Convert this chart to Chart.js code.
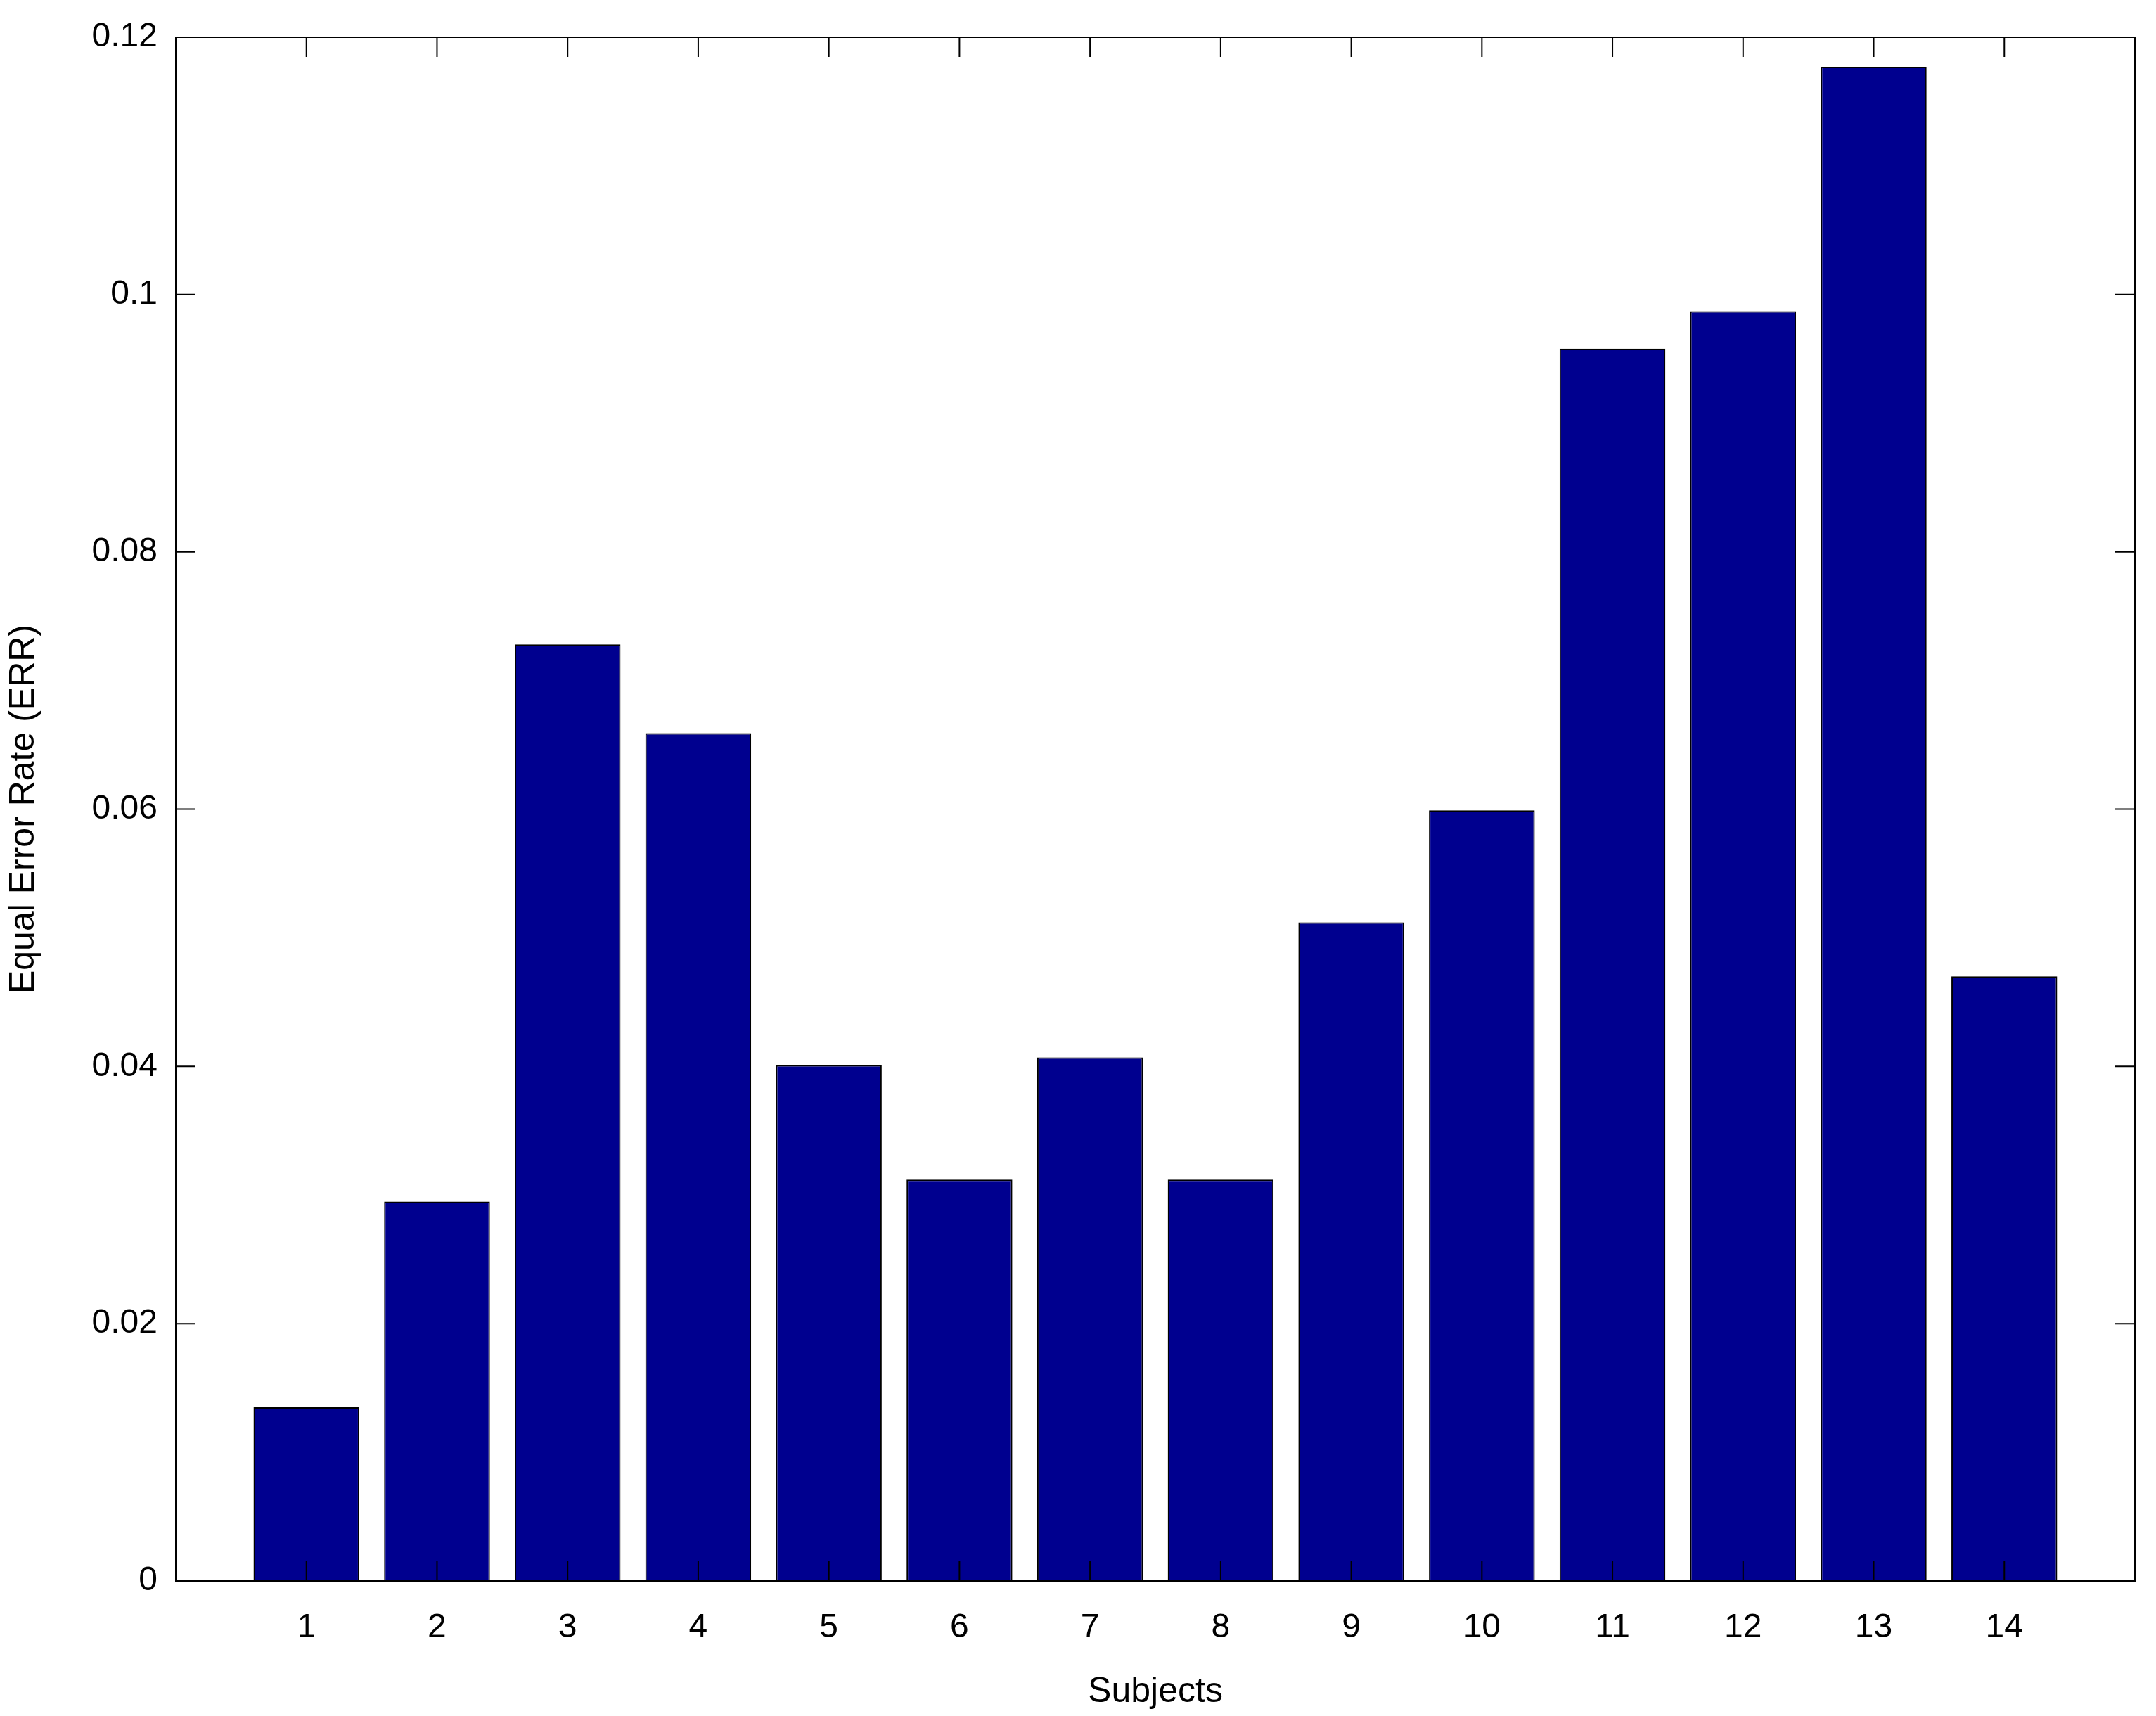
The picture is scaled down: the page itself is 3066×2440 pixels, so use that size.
<!DOCTYPE html>
<html>
<head>
<script src="https://cdn.jsdelivr.net/npm/chart.js@4"></script>
<style>
  body { margin: 0; background: #fff; }
  #wrap { width: 3066px; height: 2440px; }
</style>
</head>
<body>
<div id="wrap"><canvas id="c"></canvas></div>
<script>
// Subjects (empty slots at the ends give the 0..15 axis range)
const SUBJECTS = ['', '1', '2', '3', '4', '5', '6', '7', '8', '9', '10', '11', '12', '13', '14', ''];
const ERR = [null, 0.0135, 0.0295, 0.0728, 0.0659, 0.0401, 0.0312, 0.0407, 0.0312, 0.0512, 0.0599, 0.0958, 0.0987, 0.1177, 0.0470, null];
const Y_TICKS = [0, 0.02, 0.04, 0.06, 0.08, 0.1, 0.12];

const FONT = 'Liberation Sans, Arial, sans-serif';

// MATLAB-style frame with inward ticks
const framePlugin = {
  id: 'frame',
  afterDatasetsDraw(chart) {
    const { ctx, chartArea: a, scales } = chart;
    ctx.save();
    ctx.strokeStyle = '#000';
    ctx.lineWidth = 2;
    ctx.strokeRect(a.left, a.top, a.right - a.left, a.bottom - a.top);
    const len = 28;
    ctx.beginPath();
    Y_TICKS.forEach(v => {
      const y = scales.y.getPixelForValue(v);
      ctx.moveTo(a.left, y); ctx.lineTo(a.left + len, y);
      ctx.moveTo(a.right, y); ctx.lineTo(a.right - len, y);
    });
    SUBJECTS.forEach((s, i) => {
      if (!s) return;
      const x = scales.x.getPixelForValue(i);
      ctx.moveTo(x, a.bottom); ctx.lineTo(x, a.bottom - len);
      ctx.moveTo(x, a.top); ctx.lineTo(x, a.top + len);
    });
    ctx.stroke();
    ctx.restore();
  },
};

new Chart(document.getElementById('c'), {
  type: 'bar',
  data: {
    labels: SUBJECTS,
    datasets: [{
      data: ERR,
      backgroundColor: '#00008f',
      borderColor: '#000',
      borderWidth: 2,
      barPercentage: 0.81,
      categoryPercentage: 1,
    }],
  },
  options: {
    responsive: true,
    maintainAspectRatio: false,
    animation: false,
    layout: { padding: { top: 53, right: 26 } },
    plugins: { legend: { display: false }, tooltip: { enabled: false } },
    scales: {
      x: {
        offset: false,
        grid: { display: false },
        border: { display: false },
        ticks: { color: '#000', font: { family: FONT, size: 48 }, padding: 30, maxRotation: 0, autoSkip: false },
        title: { display: true, text: 'Subjects', color: '#000', font: { family: FONT, size: 50 }, padding: { top: 0 } },
        afterFit: s => { s.height = 192; },
      },
      y: {
        min: 0,
        max: 0.12,
        afterBuildTicks: s => { s.ticks = Y_TICKS.map(v => ({ value: v })); },
        grid: { display: false },
        border: { display: false },
        ticks: { color: '#000', font: { family: FONT, size: 48 }, padding: 18, callback: v => String(+v.toFixed(2)) },
        title: { display: true, text: 'Equal Error Rate (ERR)', color: '#000', font: { family: FONT, size: 50 }, padding: { bottom: 0 } },
        afterFit: s => { s.width = 250; },
      },
    },
  },
  plugins: [framePlugin],
});
</script>
</body>
</html>
